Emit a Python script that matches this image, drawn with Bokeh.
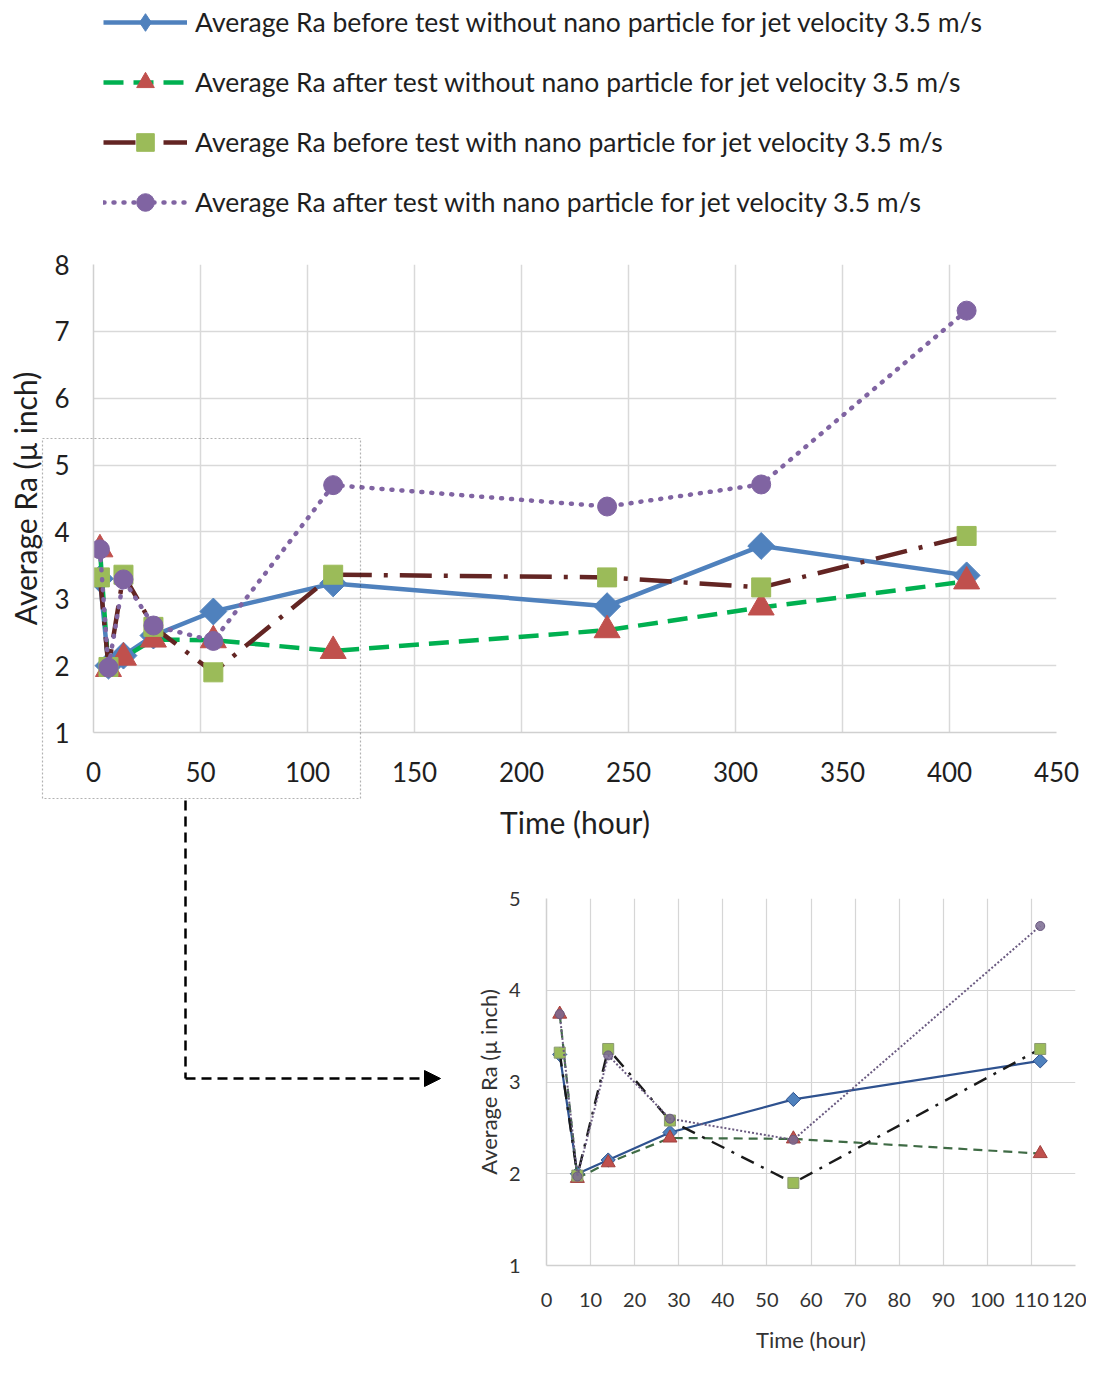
from bokeh.plotting import figure
from bokeh.models import (Range1d, Legend, LegendItem, FixedTicker, Arrow,
                          NormalHead, BoxAnnotation, GridBox, Spacer)
from bokeh.embed import file_html
from bokeh.resources import INLINE

# ---------------- data ----------------
time_h = [3, 7, 14, 28, 56, 112, 240, 312, 408]
ra_before_no_nano = [3.30, 2.00, 2.15, 2.45, 2.81, 3.23, 2.89, 3.79, 3.35]
ra_after_no_nano = [3.74, 1.95, 2.12, 2.39, 2.38, 2.22, 2.53, 2.87, 3.26]
ra_before_nano = [3.32, 1.98, 3.36, 2.58, 1.90, 3.36, 3.32, 3.17, 3.94]
ra_after_nano = [3.74, 1.97, 3.29, 2.60, 2.37, 4.70, 4.38, 4.71, 7.31]

series_labels = [
    "Average Ra before test without nano particle for jet velocity 3.5 m/s",
    "Average Ra after test without nano particle for jet velocity 3.5 m/s",
    "Average Ra before test with nano particle for jet velocity 3.5 m/s",
    "Average Ra after test with nano particle for jet velocity 3.5 m/s",
]
x_ticks_main = [0, 50, 100, 150, 200, 250, 300, 350, 400, 450]
y_ticks_main = [1, 2, 3, 4, 5, 6, 7, 8]
x_ticks_inset = [0, 10, 20, 30, 40, 50, 60, 70, 80, 90, 100, 110, 120]
y_ticks_inset = [1, 2, 3, 4, 5]
inset_points = 6  # first six time points (up to 112 h) shown in the zoomed view
y_title = "Average Ra (\u00b5 inch)"
x_title = "Time (hour)"

FONT = "Lato"
TXT = "#1f1f1f"
GRID = "#d9d9d9"
PAGE_W, PAGE_H = 1086, 1374
TOP_H = 870

# series styles (main chart)
STY = [
    dict(lc="#4F81BD", dash="solid", marker="square", angle=0.785398, size=19, fc="#4F81BD"),
    dict(lc="#00B050", dash="20 10", marker="triangle", angle=0.0, size=26, fc="#C0504D"),
    dict(lc="#632523", dash="32 12 4 12", marker="square", angle=0.0, size=19, fc="#9BBB59"),
    dict(lc="#8064A2", dash="1 9", marker="circle", angle=0.0, size=19, fc="#8064A2"),
]
LEGEND_MARKERS = ["diamond", "triangle", "square", "circle"]
values = [ra_before_no_nano, ra_after_no_nano, ra_before_nano, ra_after_nano]


def add_series(fig, xs, ys, st, lw=4.5, visible=True, marker=None):
    ln = fig.line(xs, ys, line_color=st["lc"], line_width=lw, line_dash=st["dash"],
                  line_cap="round" if st["dash"] == "1 9" else "butt", visible=visible)
    sc = fig.scatter(xs, ys, marker=marker or st["marker"],
                     angle=0.0 if marker else st["angle"], size=st["size"],
                     fill_color=st["fc"], line_color=st["fc"], visible=visible)
    return ln, sc


def style_axis(ax, tick_px, title_px, color):
    ax.axis_line_color = "#d0d0d0"
    ax.axis_line_width = 1.5
    ax.major_tick_line_color = None
    ax.minor_tick_line_color = None
    ax.major_tick_out = 0
    ax.major_tick_in = 0
    ax.minor_tick_out = 0
    ax.major_label_text_font = FONT
    ax.major_label_text_font_size = tick_px
    ax.major_label_text_color = color
    ax.axis_label_text_font = FONT
    ax.axis_label_text_font_size = title_px
    ax.axis_label_text_font_style = "normal"
    ax.axis_label_text_color = color


# ---------------- main chart ----------------
main = figure(width=PAGE_W, height=TOP_H, x_range=Range1d(0, 450), y_range=Range1d(1, 8),
              output_backend="svg", toolbar_location=None, title=None,
              min_border_left=93, min_border_right=30, min_border_bottom=138,
              min_border_top=264)
main.frame_align = False
main.outline_line_color = None
style_axis(main.xaxis[0], "26px", "30px", TXT)
style_axis(main.yaxis[0], "26px", "30px", TXT)
main.xaxis.ticker = FixedTicker(ticks=x_ticks_main)
main.yaxis.ticker = FixedTicker(ticks=y_ticks_main)
main.xaxis.major_label_standoff = 29
main.yaxis.major_label_standoff = 24
main.xaxis.axis_label = x_title
main.yaxis.axis_label = y_title
main.xaxis.axis_label_standoff = 19
main.yaxis.axis_label_standoff = 8
main.xgrid.ticker = FixedTicker(ticks=x_ticks_main)
main.ygrid.ticker = FixedTicker(ticks=y_ticks_main)
for g in (main.xgrid[0], main.ygrid[0]):
    g.grid_line_color = GRID
    g.grid_line_width = 1.5

for vals, st in zip(values, STY):
    add_series(main, time_h, vals, st)

# ---------------- inset (zoom of first 112 h) ----------------
inset = figure(width=PAGE_W - 440, height=PAGE_H - TOP_H, x_range=Range1d(0, 120),
               y_range=Range1d(1, 5), output_backend="svg", toolbar_location=None,
               title=None, min_border_left=106, min_border_right=11, min_border_top=28,
               min_border_bottom=109)
inset.frame_align = False
inset.outline_line_color = None
style_axis(inset.xaxis[0], "20px", "22px", "#333333")
style_axis(inset.yaxis[0], "20px", "22px", "#333333")
inset.xaxis.ticker = FixedTicker(ticks=x_ticks_inset)
inset.yaxis.ticker = FixedTicker(ticks=y_ticks_inset)
inset.xaxis.major_label_standoff = 27
inset.yaxis.major_label_standoff = 26
inset.xaxis.axis_label = x_title
inset.yaxis.axis_label = y_title
inset.xaxis.axis_label_standoff = 16
inset.yaxis.axis_label_standoff = 4
inset.xgrid.ticker = FixedTicker(ticks=x_ticks_inset)
inset.ygrid.ticker = FixedTicker(ticks=y_ticks_inset)
for g in (inset.xgrid[0], inset.ygrid[0]):
    g.grid_line_color = "#d6d6d6"
    g.grid_line_width = 1.2

ti = time_h[:inset_points]
inset.line(ti, ra_before_no_nano[:inset_points], line_color="#2F528F", line_width=2.2)
inset.scatter(ti, ra_before_no_nano[:inset_points], marker="square", angle=0.785398,
              size=10, fill_color="#4F81BD", line_color="#2F528F")
inset.line(ti, ra_after_no_nano[:inset_points], line_color="#3F6B45", line_width=2.2,
           line_dash="9 6")
inset.scatter(ti, ra_after_no_nano[:inset_points], marker="triangle", size=14,
              fill_color="#C0504D", line_color="#A0403D")
inset.line(ti, ra_before_nano[:inset_points], line_color="#1a1a1a", line_width=2.4,
           line_dash="14 8 3 8")
inset.scatter(ti, ra_before_nano[:inset_points], marker="square", size=11,
              fill_color="#9BBB59", line_color="#8A9A70")
inset.line(ti, ra_after_nano[:inset_points], line_color="#6A5A80", line_width=2,
           line_dash="2 2")
inset.scatter(ti, ra_after_nano[:inset_points], marker="circle", size=9,
              fill_color="#7A6A90", line_color="#6A5A80", fill_alpha=0.85)

# ---------------- transparent overlay: legend, zoom box, pointer arrow ----------------
over = figure(width=PAGE_W, height=PAGE_H, x_range=Range1d(0, PAGE_W),
              y_range=Range1d(PAGE_H, 0), output_backend="svg", toolbar_location=None,
              min_border=0, title=None)
over.frame_align = False
over.axis.visible = False
over.grid.visible = False
over.outline_line_color = None
over.background_fill_alpha = 0
over.border_fill_alpha = 0

GH, SP = 44, 16
LEG_H = 4 * GH + 3 * SP
items = []
for lab, vals, st, mk in zip(series_labels, values, STY, LEGEND_MARKERS):
    ln, sc = add_series(over, time_h, vals, st, visible=False, marker=mk)  # legend keys only
    items.append(LegendItem(label=lab, renderers=[ln, sc]))
legend = Legend(items=items, location=(103, PAGE_H - 0 - LEG_H), orientation="vertical",
                glyph_width=84, glyph_height=GH, spacing=SP, padding=0, margin=0,
                label_standoff=8, label_text_font=FONT, label_text_font_size="26.5px",
                label_text_color=TXT, border_line_color=None, background_fill_alpha=0,
                inactive_fill_alpha=0)
over.add_layout(legend, "center")

over.add_layout(BoxAnnotation(left=42, right=360, top=438, bottom=798, fill_alpha=0,
                              line_color="black", line_width=1.2, line_dash="2 2"))
over.add_layout(Arrow(end=None, x_start=185, y_start=800, x_end=185, y_end=1078,
                      line_color="black", line_width=2.5, line_dash="10 6"))
over.add_layout(Arrow(end=NormalHead(size=16, fill_color="black", line_color="black"),
                      x_start=185, y_start=1078, x_end=440, y_end=1078,
                      line_color="black", line_width=2.5, line_dash="10 6"))

grid = GridBox(children=[
    (main, 0, 0, 1, 2),
    (Spacer(width=440, height=PAGE_H - TOP_H), 1, 0),
    (inset, 1, 1),
    (over, 0, 0, 2, 2),
])
open("out.html", "w").write(file_html(grid, INLINE))
